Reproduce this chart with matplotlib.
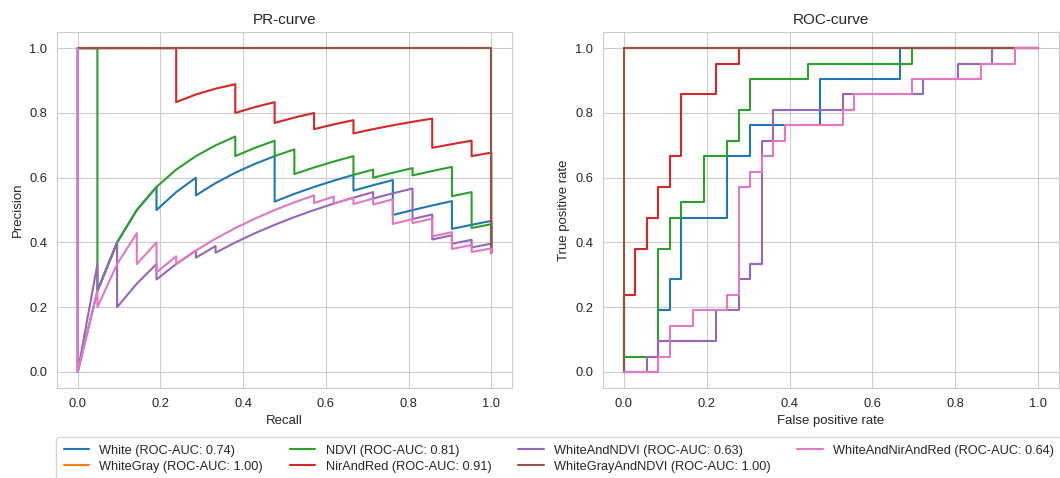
import numpy as np
import matplotlib
matplotlib.use("Agg")
import matplotlib.pyplot as plt
import seaborn as sns

sns.set_style("whitegrid")
plt.rcParams["font.family"] = ["Liberation Sans", "DejaVu Sans"]

# test set: 21 positives, 36 negatives
n_pos = 21
n_neg = 36

models = ["White", "WhiteGray", "NDVI", "NirAndRed",
          "WhiteAndNDVI", "WhiteGrayAndNDVI", "WhiteAndNirAndRed"]
roc_auc = [0.74, 1.00, 0.81, 0.91, 0.63, 1.00, 0.64]

# ROC corners as (false positives, true positives) counts
white_fp = [0, 3, 3, 4, 4, 5, 5, 9, 9, 11, 11, 17, 17, 24, 24, 36]
white_tp = [0, 0, 4, 4, 6, 6, 10, 10, 14, 14, 16, 16, 19, 19, 21, 21]

whitegray_fp = [0, 0, 36]
whitegray_tp = [0, 21, 21]

ndvi_fp = [0, 0, 3, 3, 4, 4, 5, 5, 7, 7, 9, 9, 10, 10, 11, 11, 16, 16, 25, 25, 36]
ndvi_tp = [0, 1, 1, 8, 8, 10, 10, 11, 11, 14, 14, 15, 15, 17, 17, 19, 19, 20, 20, 21, 21]

nirandred_fp = [0, 0, 1, 1, 2, 2, 3, 3, 4, 4, 5, 5, 8, 8, 10, 10, 36]
nirandred_tp = [0, 5, 5, 8, 8, 10, 10, 12, 12, 14, 14, 18, 18, 20, 20, 21, 21]

whiteandndvi_fp = [0, 2, 2, 3, 3, 8, 8, 10, 10, 11, 11, 12, 12, 13, 13, 19, 19, 26, 26, 29, 29, 32, 32, 36]
whiteandndvi_tp = [0, 0, 1, 1, 2, 2, 4, 4, 6, 6, 7, 7, 15, 15, 17, 17, 18, 18, 19, 19, 20, 20, 21, 21]

whitegrayandndvi_fp = [0, 0, 36]
whitegrayandndvi_tp = [0, 21, 21]

whiteandnirandred_fp = [0, 3, 3, 4, 4, 6, 6, 9, 9, 10, 10, 11, 11, 12, 12, 13, 13, 14, 14,
                        19, 19, 20, 20, 25, 25, 31, 31, 34, 34, 36]
whiteandnirandred_tp = [0, 0, 1, 1, 3, 3, 4, 4, 5, 5, 12, 12, 13, 13, 14, 14, 15, 15, 16,
                        16, 17, 17, 18, 18, 19, 19, 20, 20, 21, 21]

roc_fp = [white_fp, whitegray_fp, ndvi_fp, nirandred_fp,
          whiteandndvi_fp, whitegrayandndvi_fp, whiteandnirandred_fp]
roc_tp = [white_tp, whitegray_tp, ndvi_tp, nirandred_tp,
          whiteandndvi_tp, whitegrayandndvi_tp, whiteandnirandred_tp]


def pr_points(fp, tp):
    # walk the ROC corners one sample at a time -> ranked labels
    labels = []
    for i in range(1, len(fp)):
        labels += [0] * (fp[i] - fp[i - 1]) + [1] * (tp[i] - tp[i - 1])
    labels = np.array(labels)
    tps = np.cumsum(labels)
    fps = np.cumsum(1 - labels)
    precision = tps / (tps + fps)
    recall = tps / tps[-1]
    return np.r_[0, recall], np.r_[1, precision]


fig = plt.figure(figsize=(10.6, 4.78), dpi=100)
ax1 = fig.add_axes([0.0538, 0.188, 0.4292, 0.745])
ax2 = fig.add_axes([0.569, 0.188, 0.430, 0.745])

colors = plt.cm.tab10.colors
lines = []
for i, name in enumerate(models):
    r, p = pr_points(roc_fp[i], roc_tp[i])
    ax1.plot(r, p, color=colors[i], lw=1.5)
    fpr = np.array(roc_fp[i]) / n_neg
    tpr = np.array(roc_tp[i]) / n_pos
    l, = ax2.plot(fpr, tpr, color=colors[i], lw=1.5,
                  label=f"{name} (ROC-AUC: {roc_auc[i]:.2f})")
    lines.append(l)

ax1.set_title("PR-curve", fontsize=11)
ax1.set_xlabel("Recall", fontsize=9.5)
ax1.set_ylabel("Precision", fontsize=9.5)
ax2.set_title("ROC-curve", fontsize=11)
ax2.set_xlabel("False positive rate", fontsize=9.5)
ax2.set_ylabel("True positive rate", fontsize=9.5)

for ax in (ax1, ax2):
    ax.set_xticks([0, 0.2, 0.4, 0.6, 0.8, 1.0])
    ax.set_yticks([0, 0.2, 0.4, 0.6, 0.8, 1.0])
    ax.tick_params(labelsize=9.3)

fig.legend(handles=lines, ncol=4, loc="upper left", mode="expand",
           bbox_to_anchor=(0.0468, 0.0992, 0.961, 0), fontsize=9.2,
           labelspacing=0.32, borderpad=0.6)

fig.savefig("out.png", dpi=100)
